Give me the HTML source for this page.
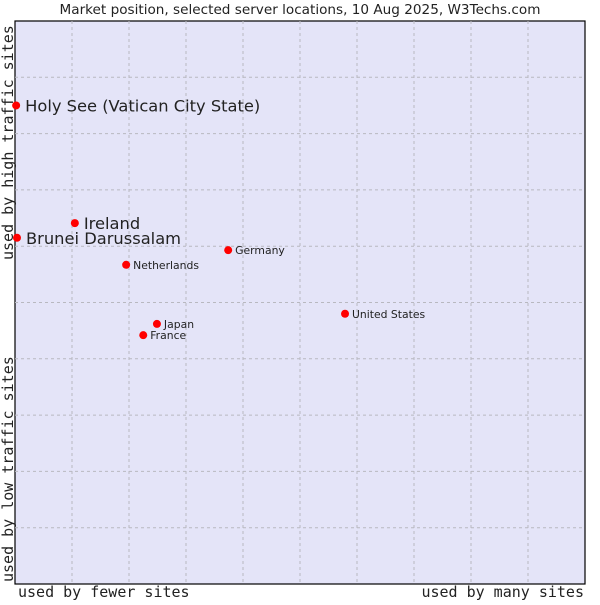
<!DOCTYPE html>
<html><head><meta charset="utf-8"><style>
body{margin:0;background:#fff;}
svg text{font-family:"DejaVu Sans",Verdana,sans-serif;fill:#222;}
.mono{font-family:"DejaVu Sans Mono","Liberation Mono",monospace;}
</style></head><body>
<svg id="chart" width="600" height="600" xmlns="http://www.w3.org/2000/svg">
<text x="300" y="14" text-anchor="middle" font-size="13.6">Market position, selected server locations, 10 Aug 2025, W3Techs.com</text>
<rect x="15" y="21" width="570" height="563" fill="#e4e4f8" stroke="#000" stroke-width="1.2"/>
<g id="grid"></g>
<g id="points"></g>
<text class="mono" x="18" y="597" font-size="15">used by fewer sites</text>
<text class="mono" x="584" y="597" font-size="15" text-anchor="end">used by many sites</text>
<text class="mono" transform="translate(13,260) rotate(-90)" font-size="15">used by high traffic sites</text>
<text class="mono" transform="translate(13,582) rotate(-90)" font-size="15">used by low traffic sites</text>
</svg>
<script>
const names=["Holy See (Vatican City State)","Ireland","Brunei Darussalam","Germany","Netherlands","United States","Japan","France"];
const xVals=[0.2,10.5,0.35,37.4,19.5,57.9,24.9,22.5];
const yVals=[85,64.1,61.5,59.3,56.7,48,46.2,44.2];
const big=[true,true,true,false,false,false,false,false];
const NS="http://www.w3.org/2000/svg";
const X=v=>15+v*5.7, Y=v=>584-v*5.63;
const grid=document.getElementById('grid'), pts=document.getElementById('points');
for(let i=1;i<10;i++){
  const v=document.createElementNS(NS,'line');
  v.setAttribute('x1',X(i*10));v.setAttribute('x2',X(i*10));v.setAttribute('y1',21);v.setAttribute('y2',584);
  v.setAttribute('stroke','#b8b8c0');v.setAttribute('stroke-dasharray','3,3');
  
  
  grid.appendChild(v);
  const h=document.createElementNS(NS,'line');
  h.setAttribute('y1',Y(i*10));h.setAttribute('y2',Y(i*10));h.setAttribute('x1',15);h.setAttribute('x2',585);
  h.setAttribute('stroke','#b8b8c0');h.setAttribute('stroke-dasharray','3,3');
  
  
  grid.appendChild(h);
}
names.forEach((n,i)=>{
  const cx=X(xVals[i]), cy=Y(yVals[i]);
  const d=document.createElementNS(NS,'circle');
  d.setAttribute('cx',cx);d.setAttribute('cy',cy);d.setAttribute('r','4');
  d.setAttribute('fill','#ff0000');
  
  
  pts.appendChild(d);
  const t=document.createElementNS(NS,'text');
  t.setAttribute('x',cx+(big[i]?9:7));t.setAttribute('y',cy+(big[i]?6:4));
  t.setAttribute('font-size',big[i]?'16.3':'10.8');
  t.textContent=n;
  
  
  pts.appendChild(t);
});
</script>
</body></html>
